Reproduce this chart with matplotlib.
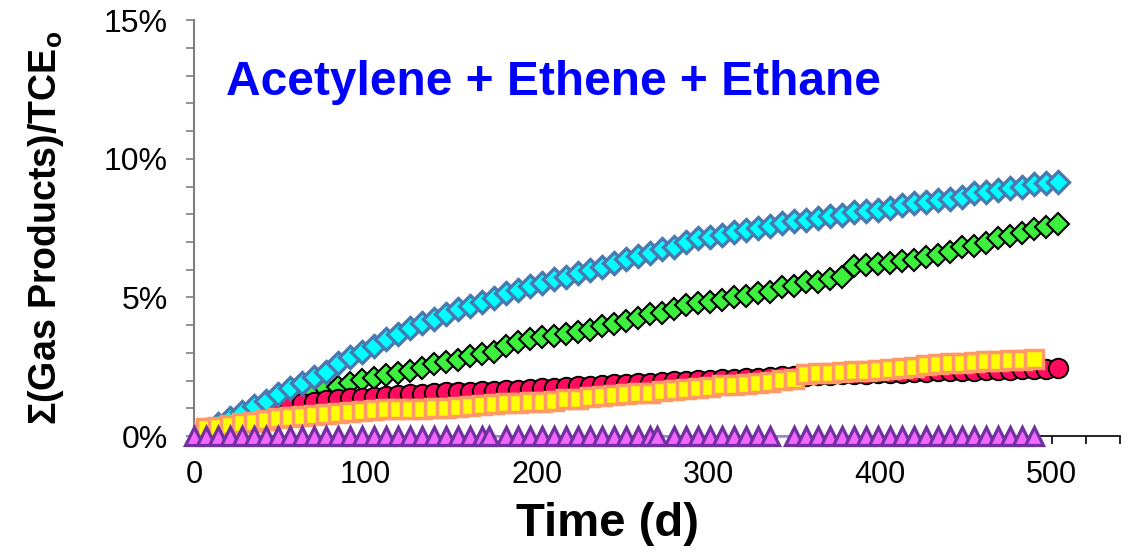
import matplotlib
matplotlib.use("Agg")
import matplotlib.pyplot as plt
from matplotlib.ticker import MultipleLocator, FuncFormatter

plt.rcParams['font.family'] = ['Liberation Sans', 'DejaVu Sans']
plt.rcParams['mathtext.fontset'] = 'custom'
plt.rcParams['mathtext.bf'] = 'Liberation Sans:bold'

# ─── DATA (sum of gas products, % of initial TCE) ───────────────────────────
days = [0, 7, 14, 21, 28, 35, 42, 49, 56, 63, 70, 77, 84, 91, 98, 105, 112,
        119, 126, 133, 140, 147, 154, 161, 168, 175, 182, 189, 196, 203, 210,
        217, 224, 231, 238, 245, 252, 259, 266, 273, 280, 287, 294, 301, 308,
        315, 322, 329, 336, 343, 350, 357, 364, 371, 378, 385, 392, 399, 406,
        413, 420, 427, 434, 441, 448, 455, 462, 469, 476, 483, 490, 497, 504]

cyan_vals = [0.00, 0.22, 0.43, 0.66, 0.88, 1.07, 1.28, 1.50, 1.74, 1.93, 2.14,
             2.30, 2.62, 2.85, 3.04, 3.26, 3.49, 3.68, 3.90, 4.08, 4.22, 4.40,
             4.60, 4.70, 4.84, 4.98, 5.15, 5.27, 5.42, 5.52, 5.66, 5.75, 5.88,
             5.99, 6.11, 6.26, 6.40, 6.48, 6.62, 6.75, 6.83, 7.00, 7.14, 7.18,
             7.27, 7.37, 7.44, 7.52, 7.57, 7.70, 7.77, 7.81, 7.88, 7.94, 7.99,
             8.09, 8.12, 8.17, 8.24, 8.32, 8.41, 8.45, 8.52, 8.57, 8.64, 8.77,
             8.81, 8.88, 8.95, 9.00, 9.09, 9.13, 9.17]

green_vals = [0.00, 0.12, 0.28, 0.45, 0.62, 0.80, 0.98, 1.17, 1.34, 1.44, 1.56,
              1.70, 1.78, 1.91, 2.02, 2.09, 2.20, 2.27, 2.36, 2.45, 2.60, 2.67,
              2.74, 2.89, 2.96, 3.03, 3.25, 3.39, 3.50, 3.57, 3.61, 3.68, 3.75,
              3.83, 3.97, 4.04, 4.14, 4.26, 4.40, 4.44, 4.58, 4.73, 4.80, 4.84,
              4.91, 5.02, 5.05, 5.16, 5.20, 5.38, 5.42, 5.56, 5.56, 5.67, 5.74,
              6.14, 6.17, 6.21, 6.25, 6.33, 6.36, 6.46, 6.53, 6.64, 6.82, 6.86,
              6.97, 7.15, 7.22, 7.33, 7.47, 7.55, 7.65]

red_vals = [0.00, 0.10, 0.25, 0.42, 0.60, 0.75, 0.88, 1.00, 1.10, 1.18, 1.23,
            1.29, 1.33, 1.36, 1.38, 1.41, 1.43, 1.47, 1.50, 1.51, 1.54, 1.57,
            1.58, 1.60, 1.61, 1.64, 1.66, 1.67, 1.70, 1.72, 1.73, 1.76, 1.79,
            1.81, 1.85, 1.86, 1.89, 1.90, 1.93, 1.94, 1.97, 1.98, 2.01, 2.03,
            2.04, 2.07, 2.08, 2.11, 2.12, 2.15, 2.16, 2.18, 2.20, 2.21, 2.23,
            2.24, 2.25, 2.27, 2.28, 2.29, 2.31, 2.31, 2.33, 2.34, 2.35, 2.36,
            2.37, 2.38, 2.39, 2.40, 2.42, 2.43, 2.45]

yellow_days = days[:71]
yellow_vals = [0.10, 0.29, 0.32, 0.40, 0.47, 0.51, 0.58, 0.65, 0.69, 0.72, 0.76,
               0.79, 0.83, 0.87, 0.90, 0.93, 0.96, 0.97, 0.98, 0.99, 1.00, 1.02,
               1.05, 1.08, 1.11, 1.16, 1.18, 1.19, 1.21, 1.24, 1.27, 1.32, 1.35,
               1.40, 1.44, 1.48, 1.51, 1.54, 1.56, 1.62, 1.66, 1.69, 1.73, 1.77,
               1.83, 1.84, 1.88, 1.91, 1.95, 2.01, 2.07, 2.25, 2.27, 2.28, 2.31,
               2.34, 2.36, 2.38, 2.42, 2.45, 2.49, 2.55, 2.59, 2.63, 2.64, 2.67,
               2.70, 2.72, 2.74, 2.75, 2.78]

tri_days = [0, 7, 14, 21, 28, 35, 42, 49, 56, 63, 70, 77, 84, 91, 98, 105, 112,
            119, 126, 133, 140, 147, 154, 161, 168, 172, 182, 189, 196, 203,
            210, 217, 224, 231, 238, 245, 252, 259, 266, 270, 280, 287, 294,
            301, 308, 315, 322, 329, 336, 350, 357, 364, 371, 378, 385, 392,
            399, 406, 413, 420, 427, 434, 441, 448, 455, 462, 469, 476, 483, 490]
tri_vals = [0.0] * len(tri_days)

title_text = "Acetylene + Ethene + Ethane"

# ─── FIGURE ─────────────────────────────────────────────────────────────────
fig = plt.figure(figsize=(11.28, 5.55), dpi=100)
ax = fig.add_axes([0.172, 0.2144, 0.821, 0.749])

ax.plot(days, green_vals, '-', color='#22b04a', lw=4, zorder=2)
ax.plot(days, green_vals, 'D', ms=11.5, mfc='#3df03d', mec='black', mew=1.5, zorder=3)
ax.plot(days, red_vals, 'o', ms=14, mfc='#ff0a5e', mec='black', mew=1.4, zorder=4)
ax.plot(days, cyan_vals, 'D', ms=11.5, mfc='#00ffff', mec='#4a78b0', mew=2.4, zorder=5)
ax.plot(yellow_days, yellow_vals, 's', ms=12.5, mfc='#ffff00', mec='#ff9966',
        mew=2.5, zorder=6)
ax.plot(tri_days, tri_vals, '-', color='#a98bd6', lw=2, zorder=6.5, clip_on=False)
ax.plot(tri_days, tri_vals, '^', ms=13, mfc='#f566ff', mec='#7030a0', mew=2.3,
        zorder=7, clip_on=False)

ax.set_xlim(0, 540)
ax.set_ylim(0, 15)
ax.xaxis.set_major_locator(MultipleLocator(100))
ax.xaxis.set_minor_locator(MultipleLocator(20))
ax.yaxis.set_major_locator(MultipleLocator(5))
ax.yaxis.set_minor_locator(MultipleLocator(1))
ax.yaxis.set_major_formatter(FuncFormatter(lambda v, p: f'{v:.0f}%'))

for side in ('top', 'right'):
    ax.spines[side].set_visible(False)
ax.spines['left'].set_color('#7f7f7f')
ax.spines['left'].set_linewidth(1.5)
ax.spines['bottom'].set_color('black')
ax.spines['bottom'].set_linewidth(1.2)

ax.tick_params(axis='y', which='both', direction='out', length=6, width=1.2,
               color='#7f7f7f', labelsize=23, pad=13)
ax.tick_params(axis='x', which='both', direction='out', length=6, width=1.2,
               color='black', labelsize=22, pad=11)

ax.set_xlabel('Time (d)', fontsize=34, fontweight='bold')
ax.xaxis.set_label_coords(0.447, -0.158)
ax.set_ylabel(r'Σ(Gas Products)/TCE$_\mathbf{o}$', fontsize=27,
              fontweight='bold', labelpad=27)

ax.text(0.388, 0.85, title_text, transform=ax.transAxes, ha='center',
        va='center', fontsize=34.5, fontweight='bold', color='#0000ff')

plt.savefig('out.png', dpi=100)
